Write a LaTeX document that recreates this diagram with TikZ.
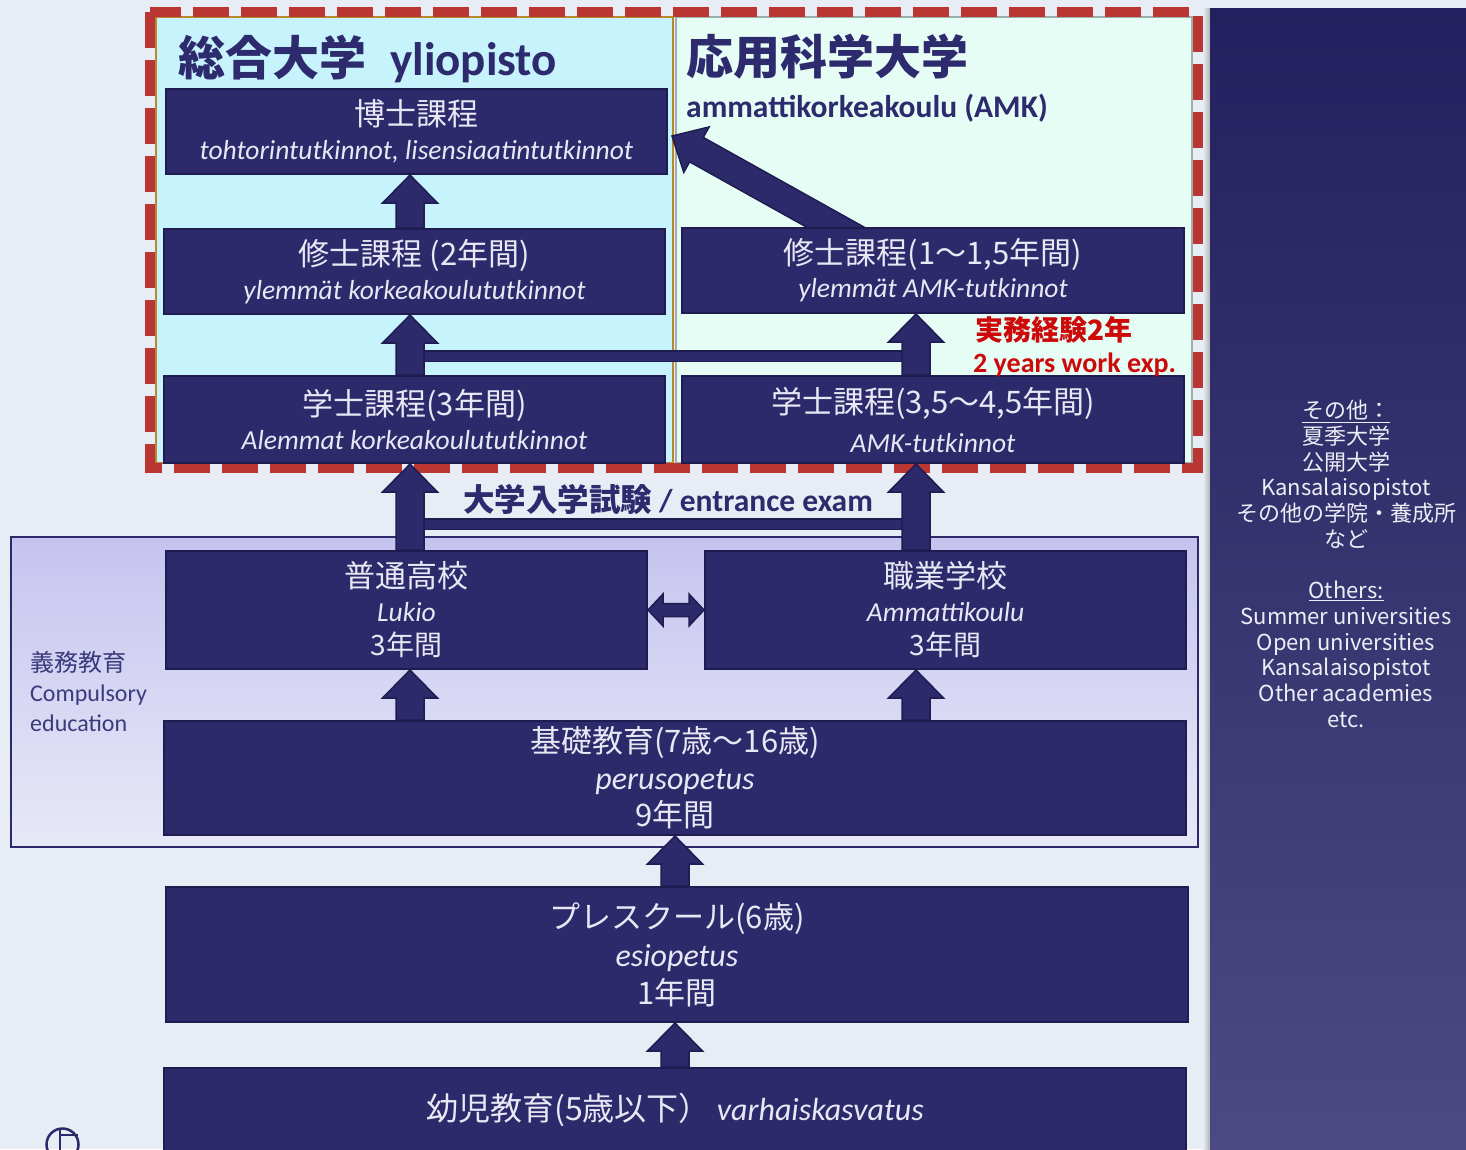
\documentclass[tikz,border=0pt]{standalone}
\usepackage{fontspec}
\setmainfont{Carlito}
\newfontfamily\jp{Noto Sans CJK JP}
\usetikzlibrary{calc,positioning}

\definecolor{bgcol}{HTML}{E8ECF5}
\definecolor{navy}{HTML}{2D2A6C}
\definecolor{navyline}{HTML}{1E1C50}
\definecolor{boxtext}{HTML}{E8E8F4}
\definecolor{dashred}{HTML}{B93632}
\definecolor{unicyan}{HTML}{C7F3FC}
\definecolor{amkmint}{HTML}{E6FDF6}
\definecolor{gold}{HTML}{B8892C}
\definecolor{greyline}{HTML}{9DAEAB}
\definecolor{titlenavy}{HTML}{2D2A6E}
\definecolor{redtext}{HTML}{CC0A0A}
\definecolor{comptop}{HTML}{C6C4EF}
\definecolor{compbot}{HTML}{E8E8F8}
\definecolor{paneltop}{HTML}{22205E}
\definecolor{panelbot}{HTML}{4B4A82}
\definecolor{paneltext}{HTML}{EDEDF5}
\definecolor{labelcol}{HTML}{3B3A7D}

\pgfdeclarelayer{bg}
\pgfdeclarelayer{arr}
\pgfsetlayers{bg,arr,main}

\newcommand{\jl}[1]{{\jp\fontsize{31}{31}\selectfont #1}}
\newcommand{\jy}[1]{{\jp\fontsize{28}{28}\selectfont #1}}

% block arrow: from, to, shaft half width, head half width, head length
\newcommand{\blockarrow}[5]{%
  \coordinate (hb) at ($(#2)!#5!(#1)$);
  \filldraw[arrowbody] ($(#1)!#3!90:(#2)$) -- ($(hb)!#3!90:(#2)$)
    -- ($(hb)!#4!90:(#2)$) -- (#2) -- ($(hb)!#4!-90:(#2)$)
    -- ($(hb)!#3!-90:(#2)$) -- ($(#1)!#3!-90:(#2)$) -- cycle;}
% block arrow with two heads
\newcommand{\blockboth}[5]{%
  \coordinate (ha) at ($(#1)!#5!(#2)$);
  \coordinate (hb) at ($(#2)!#5!(#1)$);
  \filldraw[arrowbody] (#1) -- ($(ha)!#4!90:(#2)$) -- ($(ha)!#3!90:(#2)$)
    -- ($(hb)!#3!90:(#2)$) -- ($(hb)!#4!90:(#2)$) -- (#2)
    -- ($(hb)!#4!-90:(#2)$) -- ($(hb)!#3!-90:(#2)$)
    -- ($(ha)!#3!-90:(#2)$) -- ($(ha)!#4!-90:(#2)$) -- cycle;}

\begin{document}
\begin{tikzpicture}[x=1pt,y=-1pt]
\tikzset{box/.style = {draw=navyline, line width=2pt, fill=navy,
                       text=boxtext, align=center, inner sep=0pt,
                       anchor=north west,
                       font=\fontsize{27.5}{#1}\selectfont},
         box/.default=34,
         widebox/.style = {box, font=\fontsize{32}{#1}\selectfont},
         widebox/.default=38,
         arrowbody/.style = {fill=navy, draw=navyline, line width=1.5pt},
         hbar/.style = {draw=navy, line width=9pt,
                        preaction={draw=navyline, line width=12pt}},
         title/.style = {text=titlenavy, inner sep=0pt,
                         font=\bfseries\fontsize{47}{47}\selectfont},
         subtitle/.style = {text=titlenavy, inner sep=0pt,
                            font=\bfseries\fontsize{31.5}{31.5}\selectfont},
         worktext/.style = {text=redtext, inner sep=0pt,
                            font=\bfseries\fontsize{28}{28}\selectfont},
         complabel/.style = {text=labelcol, inner sep=0pt,
                             font=\fontsize{24}{24}\selectfont},
         othertext/.style = {text=paneltext, align=center, inner sep=0pt,
                             font=\jp\fontsize{22}{25.7}\selectfont}}
\useasboundingbox (0,0) rectangle (1466,1149);

% boxes
\node[box, minimum width=501pt, minimum height=85pt] (phd) at (165,88)
  {\jl{博士課程}\\{\itshape tohtorintutkinnot, lisensiaatintutkinnot}};
\node[box, minimum width=501pt, minimum height=85pt] (msL) at (163,228)
  {\jl{修士課程 (2年間)}\\{\itshape ylemmät korkeakoulututkinnot}};
\node[box=33, minimum width=502pt, minimum height=85pt] (msR) at (681,227)
  {\jl{修士課程(1〜1,5年間)}\\{\itshape ylemmät AMK-tutkinnot}};
\node[box, minimum width=501pt, minimum height=87pt] (baL) at (163,375)
  {\jl{学士課程(3年間)}\\{\itshape Alemmat korkeakoulututkinnot}};
\node[box=39, minimum width=502pt, minimum height=87pt] (baR) at (681,375)
  {\jl{学士課程(3,5〜4,5年間)}\\{\itshape AMK-tutkinnot}};
\node[box=34, minimum width=481pt, minimum height=118pt] (lukio) at (165,550)
  {\jl{普通高校}\\{\itshape Lukio}\\\jy{3年間}};
\node[box=34, minimum width=481pt, minimum height=118pt] (amm) at (704,550)
  {\jl{職業学校}\\{\itshape Ammattikoulu}\\\jy{3年間}};
\node[widebox=37, minimum width=1022pt, minimum height=114pt] (kiso) at (163,720)
  {\jl{基礎教育(7歳〜16歳)}\\{\itshape perusopetus}\\\jl{9年間}};
\node[widebox=38, minimum width=1022pt, minimum height=135pt] (pre) at (165,886)
  {\jl{プレスクール(6歳)}\\{\itshape esiopetus}\\\jl{1年間}};
\node[widebox, minimum width=1022pt, minimum height=84pt] (yoji) at (163,1067)
  {{\jp\fontsize{32}{32}\selectfont 幼児教育(5歳以下）}\hspace{6pt}{\itshape varhaiskasvatus}};

% texts
\node[title, anchor=base west] (uniTitle) at (178,75)
  {{\jp 総合大学}\hspace{24pt}yliopisto};
\node[title, anchor=base west] (amkTitle) at (686,74) {\jp 応用科学大学};
\node[subtitle, anchor=base west] (amkSub) at ($(amkTitle.base west)+(0,43)$)
  {ammattikorkeakoulu (AMK)};
\node[worktext, anchor=base west] (workJa) at (975,340) {\jp 実務経験2年};
\node[worktext, anchor=base west] (workEn) at ($(workJa.base west)+(-2,32)$)
  {2 years work exp.};
\node[subtitle, anchor=base] (exam) at (668,511)
  {{\jp 大学入学試験} / entrance exam};
\node[complabel, anchor=base west] (compJa) at (30,671) {\jp 義務教育};
\node[complabel, anchor=base west] (compEn) at ($(compJa.base west)+(0,30)$)
  {Compulsory};
\node[complabel, anchor=base west] (compEd) at ($(compEn.base west)+(0,30)$)
  {education};
\node[othertext] (others) at (1346,564)
  {\underline{その他：}\\夏季大学\\公開大学\\Kansalaisopistot\\その他の学院・養成所\\など\\[25.7pt]%
   \underline{Others:}\\Summer universities\\Open universities\\Kansalaisopistot\\Other academies\\etc.};

% columns of the arrows
\coordinate (colL) at (410,0);
\coordinate (colR) at (916,0);
\coordinate (amkTail) at ($(msR.north west)+(181,15)$);
\coordinate (amkTip) at ($(phd.east)+(4,4.5)$);

\begin{pgfonlayer}{arr}
  \draw[hbar] ($(colL |- baL.north)+(0,-19)$) -- ($(colR |- baR.north)+(0,-19)$);
  \draw[hbar] ($(colL |- baL.south)+(0,60)$) -- ($(colR |- baR.south)+(0,60)$);
  \blockarrow{colL |- msL.north}{colL |- phd.south}{14pt}{27.5pt}{28pt}
  \blockarrow{colL |- baL.north}{colL |- msL.south}{14pt}{27.5pt}{28pt}
  \blockarrow{colR |- baR.north}{colR |- msR.south}{14pt}{27.5pt}{28pt}
  \blockarrow{amkTail}{amkTip}{14pt}{26pt}{28pt}
  \blockarrow{colL |- lukio.north}{colL |- baL.south}{14pt}{27.5pt}{28pt}
  \blockarrow{colR |- amm.north}{colR |- baR.south}{14pt}{27.5pt}{28pt}
  \blockarrow{colL |- kiso.north}{colL |- lukio.south}{14pt}{27.5pt}{28pt}
  \blockarrow{colR |- kiso.north}{colR |- amm.south}{14pt}{27.5pt}{28pt}
  \blockarrow{kiso.south |- pre.north}{kiso.south}{14pt}{27.5pt}{28pt}
  \blockarrow{kiso.south |- yoji.north}{kiso.south |- pre.south}{14pt}{27.5pt}{28pt}
  \blockboth{lukio.east}{amm.west}{6.5pt}{16pt}{15pt}
\end{pgfonlayer}

\begin{pgfonlayer}{bg}
  \fill[bgcol] (0,0) rectangle (1466,1149);
  \shade[top color=comptop, bottom color=compbot] (11,537) rectangle (1198,847);
  \draw[navy, line width=2pt] (11,537) rectangle (1198,847);
  \filldraw[fill=unicyan, draw=gold, line width=2pt] (156,17) rectangle (673,463);
  \filldraw[fill=amkmint, draw=greyline, line width=2pt] (676,17) rectangle (1192,463);
  \draw[dashred, line width=10pt, dash pattern=on 36pt off 12pt]
    (150,12) rectangle (1197.5,468);
  \shade[left color=bgcol, right color=black!30] (1203,8) rectangle (1210,1149);
  \shade[top color=paneltop, bottom color=panelbot] (1210,8) rectangle (1466,1149);
  % logo at the bottom
  \draw[navy, line width=2.5pt] (62.5,1144.5) circle[radius=16];
  \draw[navy, line width=2.5pt] (60,1129) -- (60,1160) (60,1135) -- (78,1135);
\end{pgfonlayer}
\end{tikzpicture}
\end{document}
